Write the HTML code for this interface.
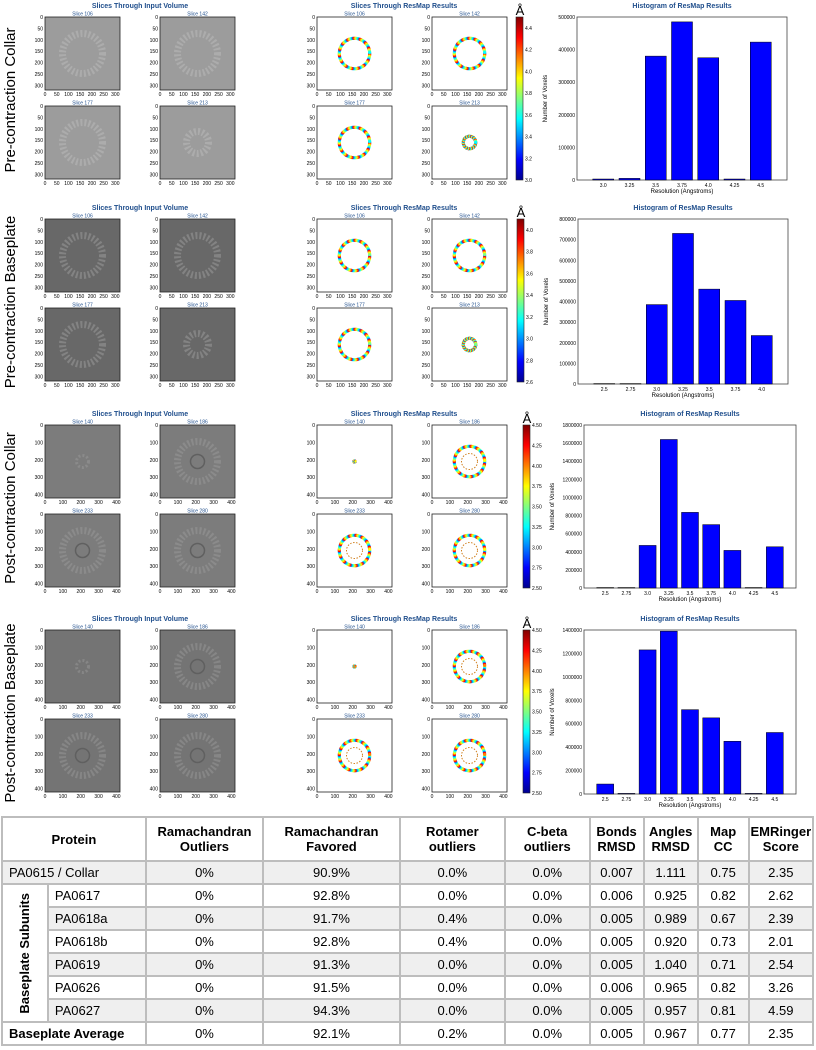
<!DOCTYPE html>
<html><head><meta charset="utf-8">
<style>
body{margin:0;width:816px;height:1050px;background:#fff;font-family:"Liberation Sans",sans-serif;overflow:hidden;position:relative}
#fig{position:absolute;left:0;top:0}
table{position:absolute;left:1px;top:816px;width:813px;border-collapse:collapse;font-size:13px;color:#000;table-layout:fixed}
td,th{border:2px solid #bdbdbd;text-align:center;padding:0;height:21px;overflow:hidden;white-space:nowrap}
th{font-weight:bold;height:42px;font-size:13px}
tr.g td{background:#efefef}
td.l{text-align:left;padding-left:6px}
.vt{writing-mode:vertical-rl;transform:rotate(180deg);font-weight:bold;margin:auto;white-space:nowrap}
</style></head><body>
<svg id="fig" width="816" height="812" xmlns="http://www.w3.org/2000/svg"></svg>
<table>
<colgroup><col style="width:45px"><col style="width:96px"><col style="width:115px"><col style="width:134px"><col style="width:103px"><col style="width:83px"><col style="width:53px"><col style="width:53px"><col style="width:50px"><col style="width:63px"></colgroup>
<tr><th colspan="2">Protein</th><th>Ramachandran<br>Outliers</th><th>Ramachandran<br>Favored</th><th>Rotamer<br>outliers</th><th>C-beta<br>outliers</th><th>Bonds<br>RMSD</th><th>Angles<br>RMSD</th><th>Map<br>CC</th><th>EMRinger<br>Score</th></tr>
<tr class="g"><td colspan="2" class="l">PA0615 / Collar</td><td>0%</td><td>90.9%</td><td>0.0%</td><td>0.0%</td><td>0.007</td><td>1.111</td><td>0.75</td><td>2.35</td></tr>
<tr><td rowspan="6" style="background:#fff"><div class="vt">Baseplate Subunits</div></td><td class="l">PA0617</td><td>0%</td><td>92.8%</td><td>0.0%</td><td>0.0%</td><td>0.006</td><td>0.925</td><td>0.82</td><td>2.62</td></tr>
<tr class="g"><td class="l">PA0618a</td><td>0%</td><td>91.7%</td><td>0.4%</td><td>0.0%</td><td>0.005</td><td>0.989</td><td>0.67</td><td>2.39</td></tr>
<tr><td class="l">PA0618b</td><td>0%</td><td>92.8%</td><td>0.4%</td><td>0.0%</td><td>0.005</td><td>0.920</td><td>0.73</td><td>2.01</td></tr>
<tr class="g"><td class="l">PA0619</td><td>0%</td><td>91.3%</td><td>0.0%</td><td>0.0%</td><td>0.005</td><td>1.040</td><td>0.71</td><td>2.54</td></tr>
<tr><td class="l">PA0626</td><td>0%</td><td>91.5%</td><td>0.0%</td><td>0.0%</td><td>0.006</td><td>0.965</td><td>0.82</td><td>3.26</td></tr>
<tr class="g"><td class="l">PA0627</td><td>0%</td><td>94.3%</td><td>0.0%</td><td>0.0%</td><td>0.005</td><td>0.957</td><td>0.81</td><td>4.59</td></tr>
<tr><td colspan="2" class="l" style="font-weight:bold">Baseplate Average</td><td>0%</td><td>92.1%</td><td>0.2%</td><td>0.0%</td><td>0.005</td><td>0.967</td><td>0.77</td><td>2.35</td></tr>
</table>
<script>
const rowLabels=["Pre-contraction Collar","Pre-contraction Baseplate","Post-contraction Collar","Post-contraction Baseplate"];
const hist0Cats=["3.0","3.25","3.5","3.75","4.0","4.25","4.5"];
const hist0Vals=[3000,5000,380000,485000,375000,3000,423000];
const hist0Ticks=[0,100000,200000,300000,400000,500000];
const hist1Cats=["2.5","2.75","3.0","3.25","3.5","3.75","4.0"];
const hist1Vals=[2000,2000,385000,730000,460000,405000,235000];
const hist1Ticks=[0,100000,200000,300000,400000,500000,600000,700000,800000];
const hist2Cats=["2.5","2.75","3.0","3.25","3.5","3.75","4.0","4.25","4.5"];
const hist2Vals=[5000,5000,470000,1640000,835000,700000,415000,5000,455000];
const hist2Ticks=[0,200000,400000,600000,800000,1000000,1200000,1400000,1600000,1800000];
const hist3Cats=["2.5","2.75","3.0","3.25","3.5","3.75","4.0","4.25","4.5"];
const hist3Vals=[85000,5000,1230000,1390000,720000,650000,450000,5000,525000];
const hist3Ticks=[0,200000,400000,600000,800000,1000000,1200000,1400000];
const cbTicks0=["3.0","3.2","3.4","3.6","3.8","4.0","4.2","4.4"];
const cbTicks1=["2.6","2.8","3.0","3.2","3.4","3.6","3.8","4.0"];
const cbTicks2=["2.50","2.75","3.00","3.25","3.50","3.75","4.00","4.25","4.50"];
const slices0=["Slice 106","Slice 142","Slice 177","Slice 213"];
const slices2=["Slice 140","Slice 186","Slice 233","Slice 280"];
const axTicks0=["0","50","100","150","200","250","300"];
const axTicks2=["0","100","200","300","400"];

const S=document.getElementById('fig');const NS="http://www.w3.org/2000/svg";
function E(t,a,p){const e=document.createElementNS(NS,t);for(const k in a)e.setAttribute(k,a[k]);(p||S).appendChild(e);return e;}
function T(x,y,s,sz,a,p,extra){const e=E('text',Object.assign({x:x,y:y,'font-size':sz,'text-anchor':a||'middle','font-family':'Liberation Sans, sans-serif'},extra||{}),p);e.textContent=s;return e;}

const rows=[
 {top:4,hx:577,hw:210,hh:163,cats:hist0Cats,vals:hist0Vals,ticks:hist0Ticks,cb:cbTicks0,sl:slices0,ax:axTicks0,axMax:320,gray:"#9c9c9c",inner:"#b4b4b4"},
 {top:206,hx:578,hw:210,hh:165,cats:hist1Cats,vals:hist1Vals,ticks:hist1Ticks,cb:cbTicks1,sl:slices0,ax:axTicks0,axMax:320,gray:"#686868",inner:"#8e8e8e"},
 {top:412,hx:584,hw:212,hh:163,cats:hist2Cats,vals:hist2Vals,ticks:hist2Ticks,cb:cbTicks2,sl:slices2,ax:axTicks2,axMax:420,gray:"#7c7c7c",inner:"#929292"},
 {top:617,hx:584,hw:212,hh:164,cats:hist3Cats,vals:hist3Vals,ticks:hist3Ticks,cb:cbTicks2,sl:slices2,ax:axTicks2,axMax:420,gray:"#747474",inner:"#8e8e8e"}
];
const jet=["#00008f","#0000ff","#0080ff","#00ffff","#80ff80","#ffff00","#ff8000","#ff0000","#800000"];
const names=["pre-collar","pre-baseplate","post-collar","post-baseplate"];

rows.forEach((r,ri)=>{
 const g=E('g',{});
 
 
 const lab=T(15,r.top+96,rowLabels[ri],15,'middle',g,{transform:`rotate(-90 15 ${r.top+96})`});
 
 
 const blue="#1f4e8c";
 T(140,r.top+4,"Slices Through Input Volume",7,'middle',g,{'font-weight':'bold',fill:blue});
 T(404,r.top+4,"Slices Through ResMap Results",7,'middle',g,{'font-weight':'bold',fill:blue});
 T(r.hx+r.hw/2,r.top+4,"Histogram of ResMap Results",7,'middle',g,{'font-weight':'bold',fill:blue});
 const py=r.top+13, ph=73, pw=75;
 const pxs=[45,160,317,432];
 for(let k=0;k<8;k++){
  const grp=k<4?0:1, i=k%4;
  const x=pxs[(grp*2)+(i%2)], y=py+(i>=2?89:0);
  const pg=E('g',{},g);
  
  
  E('rect',{x:x,y:y,width:pw,height:ph,fill:grp?"#fff":r.gray,stroke:"#222","stroke-width":0.8},pg);
  const cx=x+pw/2, cy=y+ph/2;
  const rad=(ri>=2&&i==0)?6:(ri<2&&i==3?11:20);
  if(!grp){
   E('circle',{cx:cx,cy:cy,r:rad,fill:"none",stroke:r.inner,"stroke-width":rad>10?7:3,"stroke-dasharray":"2 2",opacity:0.7},pg);
   if(ri>=2&&rad>10)E('circle',{cx:cx,cy:cy,r:7,fill:"none",stroke:"#606060","stroke-width":1.5},pg);
  } else {
   const n=rad>10?90:24;
   for(let j=0;j<n;j++){const a=j/n*6.283;const rr=rad+((j*7)%7-3)*1.6;
    E('circle',{cx:cx+Math.cos(a)*rr,cy:cy+Math.sin(a)*rr,r:rad>10?1.6:1,fill:jet[(j*5+ri)%6+2]},pg);}
   if(ri>=2&&rad>10)E('circle',{cx:cx,cy:cy,r:8,fill:"none",stroke:"#d08020","stroke-width":1,"stroke-dasharray":"1.5 1.5"},pg);
  }
  T(cx,y-1.5,r.sl[i],5,'middle',pg,{fill:blue});
  r.ax.forEach(t=>{const v=+t;const fx=x+v/r.axMax*pw,fy=y+v/r.axMax*ph;
   T(fx,y+ph+6,t,5,'middle',pg);T(x-2,fy+2,t,5,'end',pg);});
 }
 const cby=py, cbh=163, cbx=r.hx-61;
 const grad=E('linearGradient',{id:'jg'+ri,x1:0,y1:1,x2:0,y2:0},E('defs',{},g));
 jet.forEach((c,ci)=>E('stop',{offset:ci/(jet.length-1),'stop-color':c},grad));
 const cb=E('rect',{x:cbx,y:cby,width:7,height:cbh,fill:`url(#jg${ri})`,stroke:"#222","stroke-width":0.6},g);
 
 
 T(cbx+4,cby-2,"Å",13,'middle',g);
 r.cb.forEach((t,ti)=>{T(cbx+9,cby+cbh-ti/(r.cb.length-1+(ri<2?0.5:0))*cbh+2,t,5,'start',g);});
 const hy=py, hb=py+r.hh, ymax=r.ticks[r.ticks.length-1];
 const yS=v=>hb-v/ymax*r.hh;
 const bw=r.hw/(r.cats.length+1);
 const xS=i=>r.hx+bw*(i+1);
 const ax=E('rect',{x:r.hx,y:hy,width:r.hw,height:r.hh,fill:"#fff",stroke:"#444","stroke-width":0.8},g);
 
 
 r.ticks.forEach(t=>T(r.hx-2,yS(t)+2,String(t),5,'end',g));
 r.vals.forEach((v,i)=>{
  const b=E('rect',{x:xS(i)-bw*0.4,y:yS(v),width:bw*0.8,height:hb-yS(v),fill:"#0000ff",stroke:"#000","stroke-width":0.5},g);
  
  
  T(xS(i),hb+7,r.cats[i],5,'middle',g);
 });
 T(r.hx+r.hw/2,hb+13,"Resolution (Angstroms)",6,'middle',g);
 T(r.hx-30,hy+r.hh/2,"Number of Voxels",6,'middle',g,{transform:`rotate(-90 ${r.hx-30} ${hy+r.hh/2})`});
});
</script>
</body></html>
